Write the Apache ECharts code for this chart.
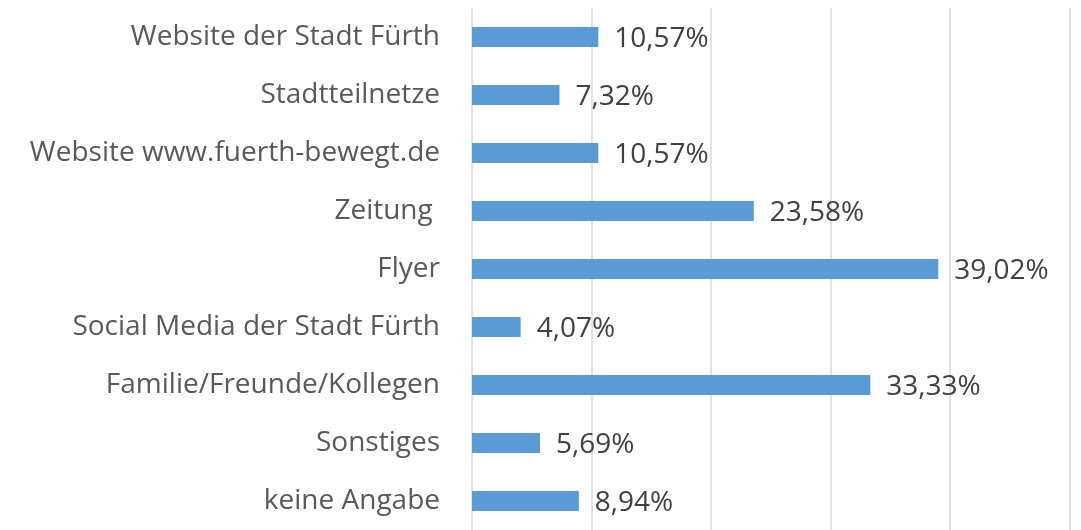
<!DOCTYPE html>
<html>
<head>
<meta charset="utf-8">
<script src="https://cdn.jsdelivr.net/npm/echarts@6/dist/echarts.min.js"></script>
<style>
    html, body { margin: 0; padding: 0; background: #fff; }
    #chart { width: 1081px; height: 530px; }
</style>
</head>
<body>
<div id="chart"></div>
<script>
// Kategorien von oben nach unten
const categories = [
    'Website der Stadt Fürth',
    'Stadtteilnetze',
    'Website www.fuerth-bewegt.de',
    'Zeitung ',
    'Flyer',
    'Social Media der Stadt Fürth',
    'Familie/Freunde/Kollegen',
    'Sonstiges',
    'keine Angabe'
];
const shares = [10.57, 7.32, 10.57, 23.58, 39.02, 4.07, 33.33, 5.69, 8.94];
const xTicks = [0, 10, 20, 30, 40, 50];

const chart = echarts.init(document.getElementById('chart'));

chart.setOption({
    animation: false,
    grid: {
        left: 472,
        top: 8,
        width: 1069.5 - 472,
        height: 526
    },
    xAxis: {
        type: 'value',
        min: xTicks[0],
        max: xTicks[xTicks.length - 1],
        interval: 10,
        axisLabel: { show: false },
        axisLine: { show: false },
        axisTick: { show: false },
        splitLine: { lineStyle: { color: '#d9d9d9', width: 1.5 } }
    },
    yAxis: {
        type: 'category',
        inverse: true,
        data: categories,
        axisLine: { show: false },
        axisTick: { show: false },
        axisLabel: {
            margin: 32,
            fontFamily: 'Open Sans',
            fontSize: 28,
            color: '#595959'
        }
    },
    series: [
        {
            type: 'bar',
            data: shares,
            barWidth: 20,
            itemStyle: { color: '#5b9bd5' },
            label: {
                show: true,
                position: 'right',
                distance: 16,
                offset: [0, 2],
                fontFamily: 'Open Sans',
                fontSize: 28,
                color: '#404040',
                formatter: p => p.value.toFixed(2).replace('.', ',') + '%'
            }
        }
    ]
});
</script>
</body>
</html>
